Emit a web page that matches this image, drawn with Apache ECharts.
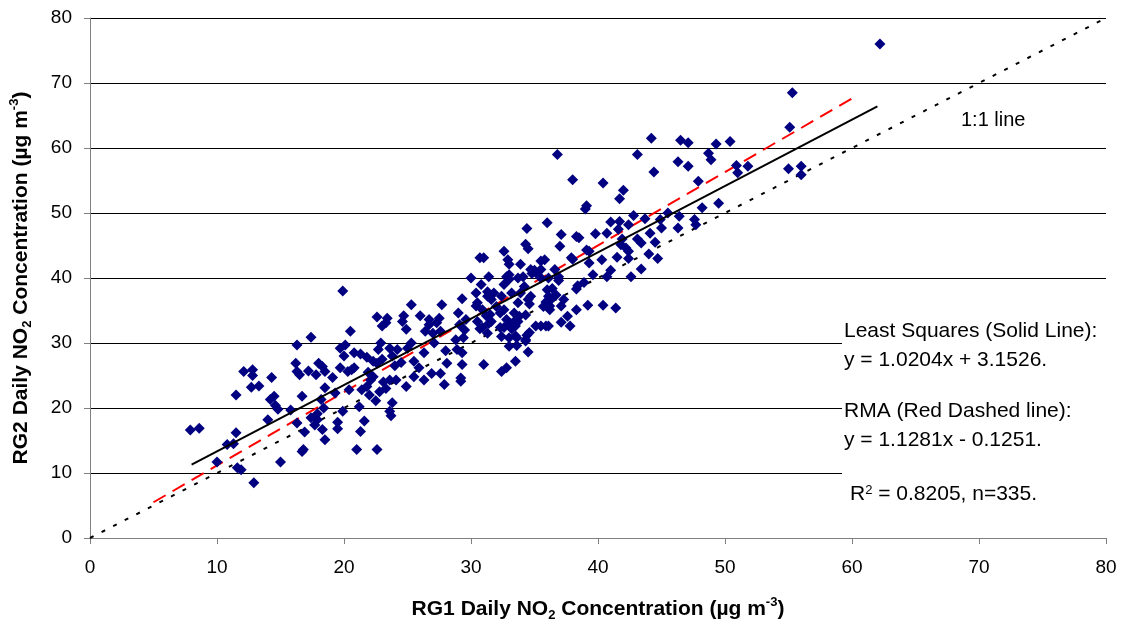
<!DOCTYPE html>
<html><head><meta charset="utf-8">
<script src="https://cdn.jsdelivr.net/npm/echarts@6/dist/echarts.min.js"></script>
<style>html,body{margin:0;padding:0;background:#fff}#c{width:1124px;height:628px}</style>
</head><body><div id="c"></div>
<script>
// RG1 (x) vs RG2 (y) daily NO2 concentrations
const dailyPairs = [
[7.9,16.6],[8.6,16.9],[10.0,11.7],[10.8,14.4],[11.3,14.5],[11.5,16.2],[11.5,22.0],[11.6,10.8],[11.9,10.5],[12.1,25.6],
[12.7,23.2],[12.8,25.9],[12.8,25.0],[12.9,8.5],[13.3,23.4],[14.3,24.7],[14.0,18.2],[14.2,21.3],[14.5,21.8],[14.6,20.4],
[14.8,19.8],[15.0,11.7],[15.8,19.7],[16.3,29.7],[16.2,26.9],[16.3,25.6],[16.5,25.1],[16.3,17.7],[16.7,21.8],[16.7,13.3],
[16.8,13.6],[16.9,16.3],[17.4,30.9],[17.2,25.7],[17.8,25.1],[17.4,18.5],[17.7,17.4],[17.9,18.2],[17.9,19.1],[18.0,26.9],
[18.3,26.4],[18.5,25.6],[18.5,23.1],[18.2,21.3],[18.4,20.0],[18.3,16.7],[18.5,15.1],[19.1,24.7],[19.3,22.3],[19.5,17.8],
[19.5,16.8],[19.7,26.2],[19.7,29.2],[19.9,19.5],[20.1,29.7],[20.0,28.0],[20.3,25.6],[20.5,31.8],[20.4,22.8],[20.8,28.5],
[20.8,26.2],[21.0,13.6],[21.2,20.2],[21.3,28.3],[21.3,16.4],[21.4,22.8],[21.6,18.0],[21.8,23.3],[21.8,27.8],[22.1,24.3],
[22.3,24.8],[22.5,21.1],[22.6,13.6],[22.6,34.0],[22.6,26.9],[22.7,29.0],[22.9,30.0],[23.1,24.0],[23.3,33.1],[23.4,33.8],
[23.6,29.2],[23.6,19.5],[23.7,18.8],[23.8,20.8],[23.6,24.3],[24.1,24.3],[24.2,29.0],[24.6,33.3],[24.7,34.2],[24.9,23.3],
[24.9,32.1],[25.0,29.2],[25.3,35.9],[25.5,27.2],[25.5,24.8],[25.9,26.2],[26.0,34.2],[26.3,24.3],[26.3,28.5],[26.4,31.8],
[26.7,33.6],[26.9,25.3],[27.1,30.0],[27.5,33.8],[27.7,35.9],[27.9,23.6],[27.6,25.3],[28.0,28.8],[28.1,26.9],[20.6,25.9],
[19.9,38.0],[23.0,32.6],[26.7,32.8],[27.3,33.1],[27.6,31.8],[27.0,31.5],[23.0,27.5],[23.8,28.0],[24.5,27.0],[22.3,27.2],
[25.3,30.0],[24.0,26.5],[21.9,25.5],[22.8,22.5],[23.3,23.0],[22.0,22.0],
[29.3,36.8],[29.0,34.6],[29.6,33.6],[29.1,32.8],[29.5,32.0],[28.8,30.5],[29.4,30.8],[28.9,29.0],[29.3,28.5],[29.3,26.7],
[29.2,24.6],[29.2,24.1],[30.0,40.0],[30.4,37.7],[30.8,39.0],[30.5,36.2],[30.4,35.7],[30.9,35.1],[31.2,34.2],[30.5,33.3],
[30.9,32.4],[30.7,32.2],[31.3,31.5],[31.3,37.2],[31.8,37.7],[31.5,34.4],[31.4,33.0],[31.6,33.3],[31.0,26.7],[30.7,43.1],
[31.0,43.1],[32.6,44.1],[32.9,42.8],[33.0,42.1],[33.9,42.1],[32.6,39.0],[32.4,37.2],[33.2,37.7],[32.0,35.6],[32.3,34.6],
[32.6,35.1],[32.8,33.6],[33.4,34.6],[33.4,33.3],[32.3,32.4],[32.6,32.4],[32.4,31.0],[33.2,32.2],[33.0,29.5],[33.6,30.8],
[34.3,30.5],[34.4,31.2],[33.8,34.1],[34.3,34.3],[34.2,38.7],[34.5,36.7],[34.1,40.2],[32.4,25.6],[32.8,26.2],
[34.4,47.6],[36.0,48.5],[34.3,45.2],[34.5,44.5],[34.7,41.3],[35.5,42.6],[35.5,41.3],[35.2,40.6],[33.0,40.5],[33.0,39.8],
[33.7,40.0],[34.7,37.2],[35.7,35.6],[36.2,35.1],[36.1,32.6],[35.5,32.6],[34.5,28.6],[33.6,29.6],[33.5,27.2],
[38.0,55.1],[40.4,54.6],[42.0,53.5],[41.7,52.2],[39.1,51.1],[39.0,50.6],[37.1,46.7],[38.3,46.4],[38.5,46.2],[37.0,44.9],
[39.8,46.8],[40.7,46.9],[41.0,48.6],[41.7,48.7],[41.6,47.5],[42.4,48.2],[42.8,49.6],[43.7,49.1],[44.1,46.9],[45.0,47.7],
[45.5,50.0],[46.3,47.7],[44.5,45.5],[43.4,45.4],[43.1,46.0],[41.9,46.0],[41.8,45.1],[42.2,44.6],[42.4,44.1],[41.5,43.2],
[42.4,43.0],[44.0,43.7],[44.7,43.0],[43.4,41.4],[42.6,40.2],[41.0,41.2],[40.7,40.2],[40.3,42.8],[39.3,44.1],[39.1,44.3],
[39.3,42.3],[39.6,40.5],[38.9,39.3],[38.4,38.8],[38.3,38.3],[37.9,43.1],[38.0,42.9],[36.6,41.3],[36.9,40.2],[36.9,39.6],
[36.1,40.0],[35.8,42.8],[35.0,41.2],[34.8,40.7],[35.5,40.0],[36.0,38.2],[36.4,38.4],[36.7,37.4],[37.3,36.7],[36.4,36.9],
[36.1,37.2],[35.9,36.3],[36.2,35.7],[37.1,35.7],[38.3,35.1],[39.2,35.8],[40.4,35.8],[41.4,35.4],[37.6,34.1],[37.1,33.2],
[37.8,32.6],[35.9,32.6],[35.1,32.6],[33.9,37.7],[33.7,36.2],[34.6,36.0],[33.7,33.3],[33.1,33.0],[33.5,32.6],[33.0,30.8],
[33.5,31.1],[34.6,31.6],[34.3,30.3],[31.6,36.7],[32.8,40.2],[31.4,40.2],[31.3,37.9],
[36.8,59.0],[44.2,61.5],[43.1,59.0],[46.5,61.2],[47.1,60.8],[49.3,60.6],[50.4,61.0],[46.3,57.9],[47.1,57.2],[48.7,59.2],
[48.9,58.2],[44.4,56.3],[47.9,54.9],[48.2,50.8],[49.5,51.5],[47.6,49.0],[47.7,48.2],[46.4,49.5],[62.2,76.0],[55.3,68.5],
[55.1,63.2],[50.9,57.3],[51.0,56.2],[51.8,57.2],[55.0,56.8],[56.0,57.2],[56.0,55.9],[44.9,49.0]
];
const oneToOneLine = [[0,0],[80,80]];
const leastSquaresLine = [[8,11.3],[62,66.4]];
const rmaLine = [[5,5.5],[60,67.6]];
const xTicks = [0,10,20,30,40,50,60,70,80];
const yTicks = [0,10,20,30,40,50,60,70,80];
const noteLines = ['Least Squares (Solid Line):','y = 1.0204x + 3.1526.','RMA (Red Dashed line):','y = 1.1281x - 0.1251.'];

const chart = echarts.init(document.getElementById('c'));
const FONT = 'Liberation Sans, Arial, sans-serif';
const titleRich = {
  b:{fontFamily:FONT,fontWeight:'bold',fontSize:21,color:'#000',lineHeight:26},
  sub:{fontFamily:FONT,fontWeight:'bold',fontSize:13,color:'#000',lineHeight:13,verticalAlign:'bottom'},
  sup:{fontFamily:FONT,fontWeight:'bold',fontSize:13,color:'#000',lineHeight:13,verticalAlign:'top'}
};
chart.setOption({
  animation:false,
  backgroundColor:'#fff',
  grid:{left:90,right:18,top:18,bottom:90,containLabel:false},
  xAxis:{type:'value',min:0,max:80,interval:10,
    name:'{b|RG1 Daily NO}{sub|2}{b| Concentration (µg m}{sup|-3}{b|)}',
    nameLocation:'middle',nameGap:58,nameTextStyle:{rich:titleRich},
    axisLine:{lineStyle:{color:'#808080',width:1}},
    axisTick:{show:true,length:6,inside:false,lineStyle:{color:'#808080'}},
    axisLabel:{fontFamily:FONT,fontSize:19,color:'#000',margin:20,formatter:v=>xTicks.includes(v)?String(v):''},
    splitLine:{show:false}},
  yAxis:{type:'value',min:0,max:80,interval:10,
    name:'{b|RG2 Daily NO}{sub|2}{b| Concentration (µg m}{sup|-3}{b|)}',
    nameLocation:'middle',nameGap:56,nameRotate:90,nameTextStyle:{rich:titleRich},
    axisLine:{show:true,lineStyle:{color:'#808080',width:1}},
    axisTick:{show:true,length:6,inside:false,lineStyle:{color:'#808080'}},
    axisLabel:{fontFamily:FONT,fontSize:19,color:'#000',margin:18,formatter:v=>yTicks.includes(v)?String(v):''},
    splitLine:{show:true,lineStyle:{color:'#000',width:1}}},
  series:[
    {type:'line',data:rmaLine,symbol:'none',z:2,lineStyle:{color:'#ff0000',width:2,type:[14,8]}},
    {type:'line',data:oneToOneLine,symbol:'none',z:2,lineStyle:{color:'#000',width:2,type:[4,9]}},
    {type:'scatter',data:dailyPairs,symbol:'diamond',symbolSize:11,z:3,itemStyle:{color:'#000080',opacity:1}},
    {type:'line',data:leastSquaresLine,symbol:'none',z:4,lineStyle:{color:'#000',width:2}}
  ],
  graphic:[
    {type:'rect',z:100,shape:{x:842,y:288,width:282,height:244},style:{fill:'#fff'}},
    {type:'text',z:101,left:961,top:110,style:{text:'1:1 line',fontFamily:FONT,fontSize:20,fill:'#000'}},
    {type:'text',z:101,left:844,top:321,style:{text:noteLines[0],fontFamily:FONT,fontSize:21,fill:'#000'}},
    {type:'text',z:101,left:844,top:350,style:{text:noteLines[1],fontFamily:FONT,fontSize:21,fill:'#000'}},
    {type:'text',z:101,left:844,top:401,style:{text:noteLines[2],fontFamily:FONT,fontSize:21,fill:'#000'}},
    {type:'text',z:101,left:844,top:430,style:{text:noteLines[3],fontFamily:FONT,fontSize:21,fill:'#000'}},
    {type:'text',z:101,left:850,top:484,style:{text:'R{sup|2} = 0.8205, n=335.',fontFamily:FONT,fontSize:21,fill:'#000',
      rich:{sup:{fontFamily:FONT,fontSize:13,fill:'#000',verticalAlign:'top',lineHeight:12}}}}
  ]
});
</script></body></html>
